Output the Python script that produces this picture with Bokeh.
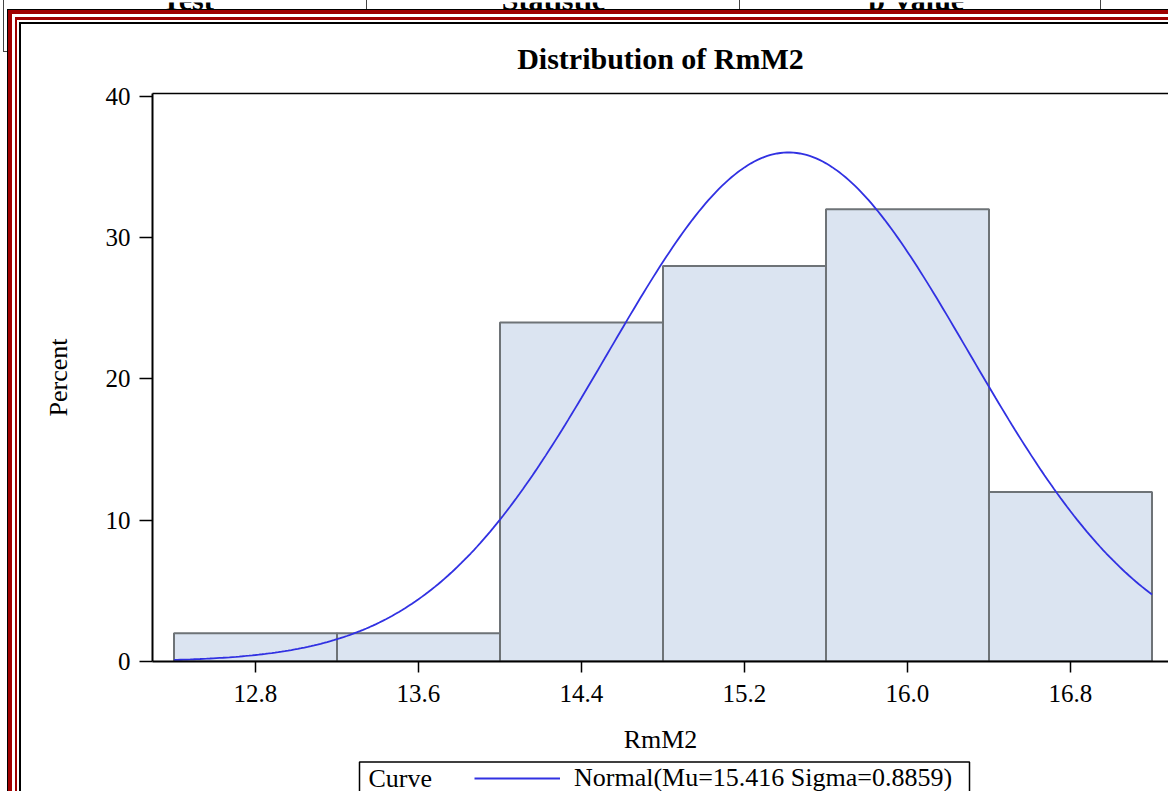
import math
from bokeh.plotting import figure
from bokeh.models import (FixedTicker, LinearAxis, Legend, LegendItem, Label, BoxAnnotation,
                          Range1d, PrintfTickFormatter, Column)
from bokeh.embed import file_html
from bokeh.resources import INLINE

# ---- data ----
bin_midpoints = [12.8, 13.6, 14.4, 15.2, 16.0, 16.8]
bin_width = 0.8
percent = [2, 2, 24, 28, 32, 12]
x_tick_labels = ["12.8", "13.6", "14.4", "15.2", "16.0", "16.8"]
y_ticks = [0, 10, 20, 30, 40]
mu = 15.416
sigma = 0.8859
title_text = "Distribution of RmM2"
x_label = "RmM2"
y_label = "Percent"
legend_title = "Curve"
curve_label = "Normal(Mu=15.416 Sigma=0.8859)"
table_headers = ["Test", "Statistic", "p Value"]   # header row of the table above (cut off)

# fitted normal curve, scaled to percent per bin, from the legend's Mu and Sigma
lo = bin_midpoints[0] - bin_width / 2
hi = bin_midpoints[-1] + bin_width / 2
n_pts = 300
curve_x = [lo + i * (hi - lo) / n_pts for i in range(n_pts + 1)]
curve_y = [100 * bin_width * math.exp(-0.5 * ((x - mu) / sigma) ** 2) / (sigma * math.sqrt(2 * math.pi))
           for x in curve_x]

SERIF = "Liberation Serif"
W = 1168
LEFT = 152
HEADER_H = 10
MAIN_H = 749
LEG_TOP = HEADER_H + MAIN_H
LEG_H = 791 - LEG_TOP
CURVE_COLOR = "#3131e2"


def strip(height, y_top, y_bottom):
    """A frameless strip whose data units are page pixels."""
    f = figure(width=W, height=height, output_backend="svg", toolbar_location=None,
               x_axis_location=None, y_axis_location=None,
               x_range=Range1d(LEFT, W), y_range=Range1d(y_bottom, y_top),
               min_border_left=LEFT, min_border_right=0, min_border_top=0, min_border_bottom=0,
               background_fill_color=None, border_fill_color=None)
    f.outline_line_color = None
    f.grid.visible = False
    return f


# ---------- header strip (cut-off table header above the graph) ----------
hdr = strip(HEADER_H, 0, HEADER_H)
for txt, sx in zip(table_headers, [187, 553, 916]):
    hdr.add_layout(Label(x=sx, y=-2.6, text=txt,
                         text_font=SERIF, text_font_size="30px", text_font_style="bold",
                         text_align="center", text_baseline="middle", text_color="black"))

# ---------- main histogram ----------
p = figure(width=W, height=MAIN_H, output_backend="svg", toolbar_location=None,
           x_range=Range1d(12.2945, 17.281), y_range=Range1d(0, 40.2),
           min_border_left=LEFT, min_border_right=0, min_border_top=83, min_border_bottom=98,
           background_fill_color="white", border_fill_color=None)
p.outline_line_color = None
p.xgrid.visible = False
p.ygrid.visible = False

p.vbar(x=bin_midpoints, width=bin_width, top=percent, bottom=0,
       fill_color="#dbe4f1", line_color="#6e7377", line_width=2)
p.line(curve_x, curve_y, line_color=CURVE_COLOR, line_width=1.8)

xa = p.xaxis[0]
ya = p.yaxis[0]
xa.ticker = FixedTicker(ticks=bin_midpoints)
xa.formatter = PrintfTickFormatter(format="%.1f")
xa.major_label_overrides = dict(zip(bin_midpoints, x_tick_labels))
ya.ticker = FixedTicker(ticks=y_ticks)
xa.axis_label = x_label
ya.axis_label = y_label
for ax in (xa, ya):
    ax.axis_line_width = 2
    ax.axis_line_color = "black"
    ax.major_tick_line_width = 1.5
    ax.major_tick_line_color = "black"
    ax.major_tick_in = 0
    ax.minor_tick_line_color = None
    ax.major_label_text_font = SERIF
    ax.major_label_text_font_size = "25px"
    ax.major_label_text_color = "black"
    ax.axis_label_text_font = SERIF
    ax.axis_label_text_font_size = "26px"
    ax.axis_label_text_font_style = "normal"
    ax.axis_label_text_color = "black"
xa.major_tick_out = 11
ya.major_tick_out = 13
xa.major_label_standoff = 12
xa.axis_label_standoff = 20
ya.major_label_standoff = 9
ya.axis_label_standoff = 30

top_axis = LinearAxis(ticker=FixedTicker(ticks=[]), axis_line_width=1.5, axis_line_color="black",
                      major_tick_line_color=None, minor_tick_line_color=None)
p.add_layout(top_axis, "above")

p.title.text = title_text
p.title.text_font = SERIF
p.title.text_font_size = "30px"
p.title.text_font_style = "bold"
p.title.text_color = "black"
p.title.align = "center"
p.title.offset = 5
p.title.standoff = 37

# ---------- legend strip (cut off by the bottom of the page) ----------
leg = strip(LEG_H, LEG_TOP, 791)
leg.add_layout(BoxAnnotation(left=359, right=969, top=761.5, bottom=820,
                             fill_color="white", fill_alpha=1.0,
                             line_color="black", line_alpha=1.0, line_width=1.5,
                             line_dash="solid"))
leg.add_layout(Label(x=368, y=777.5, text=legend_title, text_font=SERIF, text_font_size="26px",
                     text_align="left", text_baseline="middle", text_color="black"))
# same curve, used only as the legend's glyph (it lies outside this strip's range)
r_leg = leg.line(curve_x, curve_y, line_color=CURVE_COLOR, line_width=1.8)
legend = Legend(items=[LegendItem(label=curve_label, renderers=[r_leg])],
                location=(474 - LEFT, -4.5), orientation="horizontal",
                border_line_color=None, background_fill_alpha=0.0,
                padding=0, margin=0, spacing=0,
                label_text_font=SERIF, label_text_font_size="26px", label_text_color="black",
                glyph_width=86, glyph_height=36, label_height=36, label_standoff=14)
leg.add_layout(legend)

# ---------- page frame: SAS output border (double red rule) and table rules ----------
def band(color, x, y, w, h):
    return f"linear-gradient({color},{color}) {x}px {y}px / {w}px {h}px no-repeat"

bands = [
    band("#000000", 7, 9, 1, 3000), band("#000000", 7, 9, 3000, 1),
    band("#a00000", 8, 10, 4, 3000), band("#a00000", 8, 10, 3000, 4),
    band("#a00000", 15, 17, 2.3, 3000), band("#a00000", 15, 17, 3000, 3),
    band("#000000", 19, 22, 2, 3000), band("#000000", 19, 22, 3000, 2),
    band("#444444", 3, 0, 1.2, 52), band("#444444", 3, 51, 5, 1.2),
    band("#444444", 366, 0, 1.2, 10), band("#444444", 739, 0, 1.2, 10),
    band("#444444", 1100, 0, 1.2, 10),
]

page = Column(children=[hdr, p, leg], spacing=0,
              styles={"background": ", ".join(bands) + ", #ffffff"})

open("out.html", "w").write(file_html(page, INLINE))
